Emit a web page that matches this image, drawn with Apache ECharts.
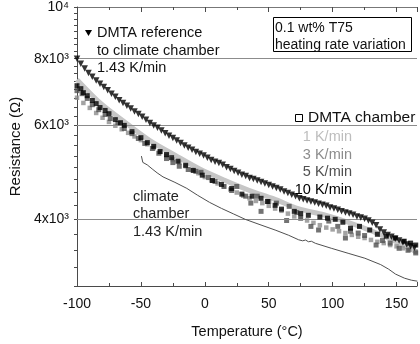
<!DOCTYPE html>
<html>
<head>
<meta charset="utf-8">
<script src="https://cdn.jsdelivr.net/npm/echarts@6/dist/echarts.min.js"></script>
<style>
  html, body { margin: 0; padding: 0; background: #fff; }
  #chart { width: 420px; height: 344px; }
</style>
</head>
<body>
<div id="chart"></div>
<script>
// DMTA reference run (1.43 K/min), temperature in °C and resistance in Ω
const refT = [-100,-97,-94,-91,-88,-85,-82,-79,-76,-73,-70,-67,-64,-61,-58,-55,-52,-49,-46,-43,-40,-37,-34,-31,-28,-25,-22,-19,-16,-13,-10,-7,-4,-1,2,5,8,11,14,17,20,23,26,29,32,35,38,41,44,47,50,53,56,59,62,65,68,71,74,77,80,83,86,89,92,95,98,101,104,107,110,113,116,119,122,125,128,131,134,137,140,143,146,149,152,155,158,161,164];
const refR = [8000,7830,7670,7520,7400,7280,7180,7080,6980,6880,6790,6690,6610,6530,6450,6370,6300,6230,6150,6060,6000,5940,5870,5800,5740,5680,5620,5560,5500,5450,5400,5350,5310,5270,5220,5170,5130,5100,5060,5010,4970,4930,4890,4850,4820,4780,4760,4730,4700,4670,4640,4610,4580,4550,4510,4480,4450,4420,4380,4360,4340,4320,4300,4280,4260,4240,4210,4190,4170,4140,4120,4100,4080,4050,4030,4010,3980,3940,3900,3830,3780,3740,3710,3680,3650,3620,3590,3560,3540];

// DMTA chamber, 1 K/min
const k1T = [-100,-81,-62,-43,-23,-4,15,35,54,73,93,112,131,151,166];
const k1R = [7310,6580,6070,5620,5270,4970,4740,4530,4370,4190,4080,3950,3800,3620,3470];

// DMTA chamber, 3 K/min
const k3T = [-100,-95,-90,-85,-80,-75,-70,-65,-60,-55,-50,-45,-40,-35,-30,-25,-20,-15,-10,-5,0,5,10,15,20,25,30,35,40,45,50,55,60,65,70,75,80,85,90,95,100,105,110,115,120,125,130,135,140,145,150,155,160,165];
const k3R = [6760,6610,6470,6330,6200,6090,5990,5900,5810,5720,5630,5530,5440,5350,5260,5180,5110,5030,4950,4880,4800,4730,4670,4610,4550,4490,4430,4380,4330,4290,4240,4190,4150,4100,4050,4020,3980,3940,3900,3860,3830,3800,3770,3740,3710,3690,3660,3630,3610,3580,3560,3530,3510,3480];

// DMTA chamber, 5 K/min
const k5T = [-100,-96,-92,-88,-83,-78,-74,-68,-63,-57,-52,-47,-41,-36,-30,-25,-20,-13,-7,-3,3,8,15,21,25,32,36,41,44,50,56,64,66,72,75,83,89,97,104,110,114,120,125,134,139,145,152,159,165];
const k5R = [6970,6880,6740,6560,6420,6290,6180,6050,5920,5790,5670,5550,5430,5320,5200,5110,5030,4960,4920,4900,4790,4710,4610,4530,4610,4420,4290,4420,4140,4320,4290,3980,4230,4120,4020,3880,3820,3970,3880,3690,3800,3770,3730,3580,3650,3610,3530,3500,3460];

// DMTA chamber, 10 K/min
const k10T = [-100,-97,-95,-92,-88,-85,-82,-78,-75,-70,-66,-63,-57,-50,-45,-40,-35,-30,-26,-21,-15,-9,-2,6,13,21,29,37,44,49,55,60,70,75,81,90,96,102,108,114,121,129,135,142,149,156,161,165];
const k10R = [7120,7030,6910,6820,6680,6590,6480,6400,6310,6150,6070,6000,5840,5690,5570,5480,5360,5290,5220,5140,5050,4940,4840,4730,4650,4570,4460,4420,4380,4320,4250,4180,4140,4100,4070,4040,4020,4000,3950,3850,3880,3820,3750,3720,3690,3640,3610,3580];

// Climate chamber, 1.43 K/min (starts with a short hook)
const ccT = [-49.6,-48.8,-48.5,-45.0,-41.2,-37.3,-32.7,-23.4,-14.1,-5.6,3.7,13.0,22.3,31.6,42.4,55.6,65.6,73.4,76.5,78.8,81.1,83.4,86.5,98.9,112.1,125.2,137.6,143.8,149.2,156.2,161.6,166.3];
const ccR = [5255,5275,5114,5059,4972,4888,4804,4692,4572,4437,4304,4194,4096,4000,3915,3815,3734,3662,3646,3658,3631,3639,3607,3531,3455,3382,3290,3226,3158,3103,3076,3063];

// Axis ticks and labels
const xTicks = [-100, -50, 0, 50, 100, 150];
const yLabelValues = [4000, 6000, 8000, 10000];
const yLabelText = ['4x10³', '6x10³', '8x10³', '10⁴'];
const yGridValues = [4000, 6000, 8000];
const yMinorStep = 250;

const zip = (a, b) => a.map((v, i) => [v, b[i]]);
const yTickValues = [];
for (let v = 3000; v <= 10000; v += yMinorStep) yTickValues.push(v);

const FONT = 'Liberation Sans, Arial, Helvetica, sans-serif';
const AXIS_COLOR = '#4a4a4a';

const chart = echarts.init(document.getElementById('chart'), null, { renderer: 'canvas' });

function txt(x, y, text, opts) {
  return {
    type: 'text', x: x, y: y, silent: true,
    style: Object.assign({ text: text, font: '14px ' + FONT, fill: '#111', verticalAlign: 'middle' }, opts || {})
  };
}

chart.setOption({
  animation: false,
  backgroundColor: '#fff',
  grid: { left: 76, right: 0, top: 7, bottom: 56, containLabel: false },
  xAxis: [{
    type: 'value', min: -100, max: 166, interval: 50,
    name: 'Temperature (°C)', nameLocation: 'middle', nameGap: 38,
    nameTextStyle: { fontFamily: FONT, fontSize: 14.5, color: '#111' },
    axisLine: { show: true, onZero: false, lineStyle: { color: AXIS_COLOR, width: 1 } },
    axisTick: { show: true, inside: true, length: 4, lineStyle: { color: AXIS_COLOR } },
    minorTick: { show: true, splitNumber: 2, length: 3, lineStyle: { color: AXIS_COLOR } },
    axisLabel: {
      fontFamily: FONT, fontSize: 14, color: '#111', margin: 11,
      formatter: v => xTicks.indexOf(v) >= 0 ? String(v) : ''
    },
    splitLine: { show: false }
  }, {
    type: 'value', position: 'top', min: -100, max: 166, interval: 50,
    axisLine: { show: true, onZero: false, lineStyle: { color: '#777', width: 1 } },
    axisTick: { show: true, inside: true, length: 5, lineStyle: { color: AXIS_COLOR } },
    minorTick: { show: true, splitNumber: 2, length: 3, lineStyle: { color: AXIS_COLOR } },
    axisLabel: { show: false },
    splitLine: { show: false }
  }],
  yAxis: {
    type: 'log', logBase: 10, min: 3000, max: 10000,
    name: 'Resistance (Ω)', nameLocation: 'middle', nameGap: 54,
    nameTextStyle: { fontFamily: FONT, fontSize: 15, color: '#111' },
    axisLine: { show: true, onZero: false, lineStyle: { color: AXIS_COLOR, width: 1 } },
    axisTick: { show: true, inside: false, length: 3, customValues: yTickValues, lineStyle: { color: AXIS_COLOR } },
    axisLabel: {
      fontFamily: FONT, fontSize: 14, color: '#111', margin: 8,
      customValues: yLabelValues,
      formatter: v => {
        const i = yLabelValues.findIndex(u => Math.abs(u - v) < 1);
        return i >= 0 ? yLabelText[i] : '';
      }
    },
    splitLine: { show: false }
  },
  series: [
    {
      name: '1 K/min', type: 'line', data: zip(k1T, k1R), smooth: 0.3,
      showSymbol: false, symbol: 'none', z: 2,
      lineStyle: { color: '#c6c6c6', width: 5 },
      markLine: {
        silent: true, symbol: 'none', label: { show: false },
        lineStyle: { color: '#8c8c8c', width: 1, type: 'solid' },
        data: yGridValues.map(v => ({ yAxis: v }))
      }
    },
    {
      name: '3 K/min', type: 'scatter', data: zip(k3T, k3R), z: 3,
      symbol: 'rect', symbolSize: 4.5, itemStyle: { color: '#8c8c8c' }
    },
    {
      name: '5 K/min', type: 'scatter', data: zip(k5T, k5R), z: 4,
      symbol: 'rect', symbolSize: 5, itemStyle: { color: '#505050' }
    },
    {
      name: '10 K/min', type: 'scatter', data: zip(k10T, k10R), z: 5,
      symbol: 'rect', symbolSize: 5, itemStyle: { color: '#000' }
    },
    {
      name: 'climate chamber', type: 'line', data: zip(ccT, ccR), z: 6,
      showSymbol: false, symbol: 'none',
      lineStyle: { color: '#505050', width: 1 }
    },
    {
      name: 'DMTA reference', type: 'scatter', data: zip(refT, refR), z: 7,
      symbol: 'triangle', symbolRotate: 180, symbolSize: 6.5, itemStyle: { color: '#000' }
    }
  ],
  graphic: [
    { type: 'polygon', silent: true, shape: { points: [[85, 30], [92, 30], [88.5, 36]] }, style: { fill: '#000' } },
    txt(97, 33, 'DMTA reference', { font: '14.5px ' + FONT }),
    txt(97, 51, 'to climate chamber', { font: '14.5px ' + FONT }),
    txt(97, 68, '1.43 K/min', { font: '14.5px ' + FONT }),
    { type: 'rect', silent: true, shape: { x: 273.5, y: 17.5, width: 138, height: 34 }, style: { fill: 'none', stroke: '#000', lineWidth: 1 } },
    txt(275, 28, '0.1 wt% T75', { font: '14px ' + FONT }),
    txt(275, 45, 'heating rate variation', { font: '14px ' + FONT }),
    { type: 'rect', silent: true, shape: { x: 295.5, y: 114.5, width: 7, height: 7 }, style: { fill: 'none', stroke: '#000', lineWidth: 1 } },
    txt(308, 118, 'DMTA chamber', { font: '15.5px ' + FONT }),
    txt(352, 137, '1 K/min', { font: '14.5px ' + FONT, fill: '#bdbdbd', align: 'right' }),
    txt(352, 155, '3 K/min', { font: '14.5px ' + FONT, fill: '#8c8c8c', align: 'right' }),
    txt(352, 172, '5 K/min', { font: '14.5px ' + FONT, fill: '#505050', align: 'right' }),
    txt(352, 190, '10 K/min', { font: '14.5px ' + FONT, fill: '#000', align: 'right' }),
    txt(133, 197, 'climate', { font: '14.5px ' + FONT, fill: '#222' }),
    txt(133, 214, 'chamber', { font: '14.5px ' + FONT, fill: '#222' }),
    txt(133, 232, '1.43 K/min', { font: '14.5px ' + FONT, fill: '#222' })
  ]
});
</script>
</body>
</html>
